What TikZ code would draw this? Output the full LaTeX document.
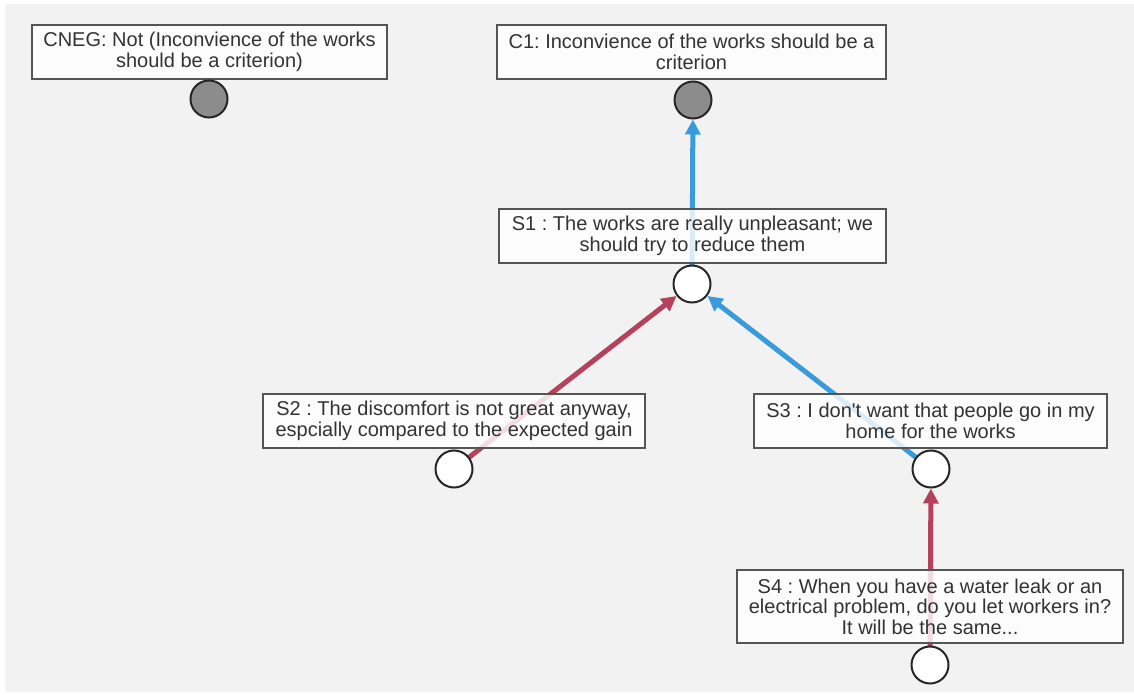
\documentclass[tikz,border=0pt]{standalone}
\usepackage{fontspec}
\setmainfont{Liberation Sans}
\usetikzlibrary{arrows.meta}
\frenchspacing
\definecolor{bgc}{HTML}{F2F2F2}
\definecolor{txt}{HTML}{333333}
\definecolor{boxline}{HTML}{555555}
\definecolor{supblue}{HTML}{3A9BDC}
\definecolor{attred}{HTML}{B5415C}
\definecolor{claimgray}{HTML}{8C8C8C}
\tikzset{
  stmt/.style={draw=boxline, line width=1.5pt, fill=white, fill opacity=0.82, text opacity=1,
    text=txt, align=center, inner sep=0pt, font=\fontsize{20}{20.5}\selectfont\frenchspacing},
  dot/.style={circle, draw=black!85, line width=2pt, fill=white, minimum size=37pt, inner sep=0pt},
  claimdot/.style={dot, fill=claimgray},
  link/.style={line width=5pt, -{Triangle[length=15pt,width=15pt]}},
  support/.style={link, draw=supblue, fill=supblue},
  attack/.style={link, draw=attred, fill=attred},
}
\begin{document}
\begin{tikzpicture}[x=1pt,y=-1pt]
\useasboundingbox (0,0) rectangle (1134,695);
\fill[bgc] (5,4) rectangle (1134,692);
% circle positions (visible circles drawn later on top)
\path (209,99) node[dot, draw=none, fill=none] (cnegc) {}
      (693,100) node[dot, draw=none, fill=none] (c1c) {}
      (692,284) node[dot, draw=none, fill=none] (s1c) {}
      (454,469) node[dot, draw=none, fill=none] (s2c) {}
      (931,469) node[dot, draw=none, fill=none] (s3c) {}
      (930,665) node[dot, draw=none, fill=none] (s4c) {};
% connectors
\draw[support] (s1c.center) -- (c1c);
\draw[attack] (s2c.center) -- (s1c);
\draw[support] (s3c.center) -- (s1c);
\draw[attack] (s4c.center) -- (s3c);
% statement boxes
\node[stmt, minimum width=355pt, minimum height=54pt] (cneg) at (209.5,52)
  {CNEG: Not (Inconvience of the works\\should be a criterion)};
\node[stmt, minimum width=389pt, minimum height=54pt] (c1) at (691.5,52)
  {C1: Inconvience of the works should be a\\criterion};
\node[stmt, minimum width=387pt, minimum height=54pt] (s1) at (692.5,236)
  {S1 : The works are really unpleasant; we\\should try to reduce them};
\node[stmt, minimum width=382pt, minimum height=54pt] (s2) at (454,421)
  {S2 : The discomfort is not great anyway,\\espcially compared to the expected gain};
\node[stmt, minimum width=353pt, minimum height=54pt] (s3) at (930.5,421)
  {S3 : I don\textquotesingle t want that people go in my\\home for the works};
\node[stmt, minimum width=386pt, minimum height=73pt] (s4) at (930,606.5)
  {S4 : When you have a water leak or an\\electrical problem, do you let workers in?\\It will be the same...};
% circles on top
\node[claimdot] at (cnegc) {};
\node[claimdot] at (c1c) {};
\node[dot] at (s1c) {};
\node[dot] at (s2c) {};
\node[dot] at (s3c) {};
\node[dot] at (s4c) {};
\end{tikzpicture}
\end{document}
